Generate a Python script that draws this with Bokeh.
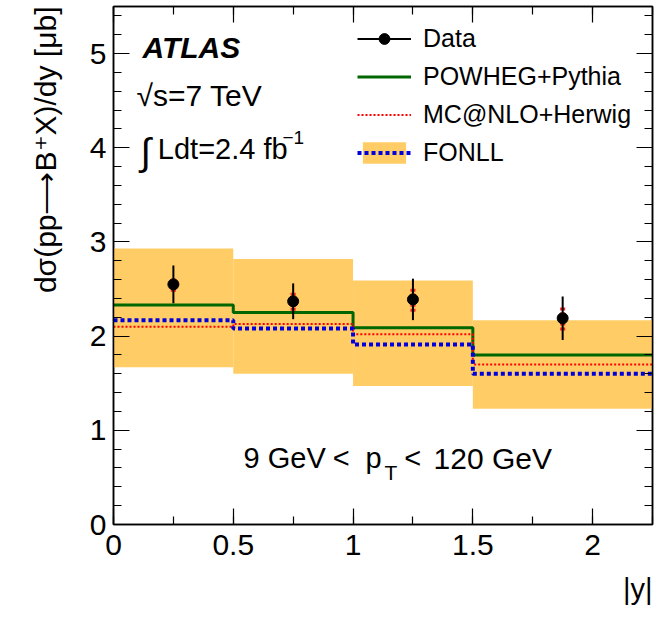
import numpy as np
from bokeh.plotting import figure
from bokeh.models import (Range1d, LinearAxis, SingleIntervalTicker, Label, Title,
                          Legend, LegendItem, CustomJSTickFormatter)
from bokeh.embed import file_html
from bokeh.resources import INLINE

# ---- data -------------------------------------------------------------
bin_edges = [0.0, 0.5, 1.0, 1.5, 2.25]
data_x = [0.25, 0.75, 1.25, 1.875]
data_y = [2.55, 2.37, 2.39, 2.19]
data_err_total = [0.20, 0.19, 0.22, 0.23]
data_err_stat = [0.08, 0.10, 0.13, 0.13]

powheg_pythia = [2.33, 2.25, 2.09, 1.80]
mcatnlo_herwig = [2.10, 2.13, 2.02, 1.70]
fonll_central = [2.17, 2.08, 1.91, 1.60]
fonll_upper = [2.93, 2.82, 2.59, 2.17]
fonll_lower = [1.67, 1.60, 1.47, 1.23]

x_ticks = [0, 0.5, 1, 1.5, 2]
x_tick_labels = ["0", "0.5", "1", "1.5", "2"]

FONT = "Liberation Sans"


def step_y(vals):
    # repeat the last bin value so the step reaches the final edge
    return list(vals) + [vals[-1]]


p = figure(width=672, height=617, x_range=Range1d(0, 2.25), y_range=Range1d(0, 5.5),
           output_backend="svg", toolbar_location=None,
           x_axis_type=None, y_axis_type=None,
           min_border_left=113, min_border_right=20, min_border_top=6, min_border_bottom=93)
p.background_fill_color = "white"
p.border_fill_color = "white"
p.outline_line_color = "black"
p.outline_line_width = 1.5
p.grid.visible = False


def style_axis(ax, labels, standoff=7):
    ax.axis_line_color = "black"
    ax.axis_line_width = 1.5
    ax.major_tick_line_color = "black"
    ax.minor_tick_line_color = "black"
    ax.major_tick_line_width = 1.2
    ax.minor_tick_line_width = 1.2
    ax.major_tick_in = 16
    ax.major_tick_out = 0
    ax.minor_tick_in = 8
    ax.minor_tick_out = 0
    if labels:
        ax.major_label_text_font = FONT
        ax.major_label_text_font_size = "30px"
        ax.major_label_text_color = "black"
        ax.major_label_standoff = standoff
    else:
        ax.formatter = CustomJSTickFormatter(code="return ''")
        ax.major_label_standoff = 0


for loc, show in (("below", True), ("above", False)):
    ax = LinearAxis(ticker=SingleIntervalTicker(interval=0.5, num_minor_ticks=2))
    if show:
        ax.major_label_overrides = {t: s for t, s in zip(x_ticks, x_tick_labels)}
    style_axis(ax, show, standoff=10)
    p.add_layout(ax, loc)

for loc, show in (("left", True), ("right", False)):
    ax = LinearAxis(ticker=SingleIntervalTicker(interval=1, num_minor_ticks=5))
    style_axis(ax, show, standoff=7)
    p.add_layout(ax, loc)

# axis titles, pushed to the ends of the axes
p.add_layout(Title(text="dσ(pp⟶B⁺X)/dy [μb]", align="right", vertical_align="top",
                   text_font=FONT, text_color="black", text_font_size="30px",
                   text_font_style="normal", standoff=46), "left")
p.add_layout(Title(text="|y|", align="right", vertical_align="bottom", text_font=FONT,
                   text_color="black", text_font_size="29px", text_font_style="normal",
                   standoff=26), "below")

# ---- FONLL uncertainty band ------------------------------------------
band = p.quad(left=bin_edges[:-1], right=bin_edges[1:], bottom=fonll_lower, top=fonll_upper,
              fill_color="#ffcc66", line_color=None)

# ---- theory predictions (histogram steps) -----------------------------
r_powheg = p.step(x=bin_edges, y=step_y(powheg_pythia), mode="after",
                  line_color="#006600", line_width=3)
r_mcnlo = p.step(x=bin_edges, y=step_y(mcatnlo_herwig), mode="after",
                 line_color="#ff0000", line_width=2, line_dash="2 2")
r_fonll = p.step(x=bin_edges, y=step_y(fonll_central), mode="after",
                 line_color="#0000dd", line_width=4, line_dash="4 3")

# ---- data points --------------------------------------------------------
dx = np.array(data_x)
dy = np.array(data_y)
p.segment(x0=dx, x1=dx, y0=dy - np.array(data_err_stat), y1=dy + np.array(data_err_stat),
          line_color="#ff2020", line_width=5, line_dash="3 2")
r_err = p.segment(x0=dx, x1=dx, y0=dy - np.array(data_err_total), y1=dy + np.array(data_err_total),
                  line_color="black", line_width=2)
r_pts = p.scatter(x=dx, y=dy, size=11, marker="circle", fill_color="black", line_color="black")

# ---- legend -------------------------------------------------------------
legend = Legend(items=[
    LegendItem(label="Data", renderers=[r_err, r_pts]),
    LegendItem(label="POWHEG+Pythia", renderers=[r_powheg]),
    LegendItem(label="MC@NLO+Herwig", renderers=[r_mcnlo]),
    LegendItem(label="FONLL", renderers=[band, r_fonll]),
], location=(244, 357))
legend.background_fill_alpha = 0
legend.border_line_color = None
legend.padding = 0
legend.margin = 0
legend.spacing = 9
legend.glyph_width = 54
legend.glyph_height = 27
legend.label_height = 27
legend.label_standoff = 12
legend.label_text_font = FONT
legend.label_text_font_size = "25px"
legend.label_text_color = "black"
p.add_layout(legend)

# ---- annotations ---------------------------------------------------------
def txt(x, y, text, size, **kw):
    lab = Label(x=x, y=y, text=text, text_font=FONT, text_font_size=size,
                text_color="black", text_baseline="alphabetic", **kw)
    p.add_layout(lab)
    return lab

txt(0.121, 5.065, "ATLAS", "30px", text_font_style="bold italic")
txt(0.096, 4.555, "√s=7 TeV", "30px")
txt(0.113, 3.957, "∫", "38px")
txt(0.185, 3.992, "Ldt=2.4 fb", "29px")
txt(0.705, 4.11, "−1", "19px")

# 9 GeV < pT < 120 GeV
txt(0.543, 0.704, "9 GeV", "29px")
txt(0.915, 0.704, "<", "29px")
txt(1.052, 0.704, "p", "29px")
txt(1.131, 0.552, "T", "21px")
txt(1.214, 0.704, "<", "29px")
txt(1.336, 0.704, "120 GeV", "30px")

open("out.html", "w").write(file_html(p, INLINE))
